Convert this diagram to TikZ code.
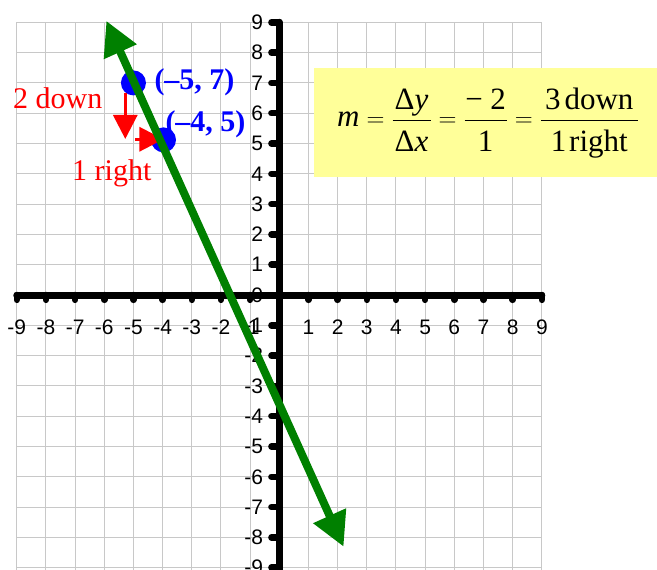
\documentclass[tikz,border=0pt]{standalone}
\usepackage{fontspec}
\setmainfont{Liberation Serif}
\newfontfamily\arialfont{Liberation Sans}
\usetikzlibrary{arrows.meta}
\definecolor{gridgray}{RGB}{200,200,200}
\definecolor{boxyellow}{RGB}{255,255,153}
\definecolor{linegreen}{RGB}{0,128,0}
\newcommand{\dstrut}{\rule{0pt}{30pt}}
\tikzset{
  gridline/.style={gridgray, line width=1pt},
  axisline/.style={black, line width=7pt, line cap=round},
  tickmark/.style={black, line width=6.5pt, line cap=round},
  numlabel/.style={font=\arialfont\fontsize{21}{21}\selectfont, inner sep=0pt},
  ptlabel/.style={font=\bfseries\fontsize{30}{30}\selectfont, text=blue, inner sep=0pt, anchor=base west},
  redlabel/.style={font=\fontsize{30}{30}\selectfont, text=red, inner sep=0pt, anchor=base west},
  redarrow/.style={red, line width=3pt, -{Triangle[length=24pt,width=24pt]}},
  greenarrow/.style={linegreen, line width=8pt, {Triangle[length=34pt,width=34pt]}-{Triangle[length=34pt,width=34pt]}},
  bluedot/.style={circle, fill=blue, minimum size=25pt, inner sep=0pt},
}
\begin{document}
\begin{tikzpicture}[x=29.17pt, y=30.3pt]
\useasboundingbox (-9.575,-9.043) rectangle (12.948,9.736);
% grid
\foreach \i in {-9,...,9} {
  \draw[gridline] (\i,9) -- (\i,-9.2);
  \draw[gridline] (-9,\i) -- (9,\i);
}
% yellow box
\fill[boxyellow] (1.19,3.90) rectangle (13.2,7.48);
\node[inner sep=0pt, anchor=base west, font=\fontsize{31}{33}\selectfont] (formula) at (1.978,5.554)
  {$\displaystyle \mbox{\itshape m} = \frac{\makebox[38pt]{Δ\itshape y}}{\makebox[38pt]{\dstrut Δ\itshape x}}
   = \frac{\makebox[42pt]{− 2}}{\makebox[42pt]{\dstrut 1}}
   = \frac{\makebox[97pt]{3\kern4pt down}}{\makebox[97pt]{\dstrut 1\kern3pt right}}$};
% labels
\foreach \i in {-9,...,-1,1,2,...,9} {
  \node[numlabel] (xl\i) at (\i,-1.06) {\ifnum\i<0 -\the\numexpr-\i\relax\else\i\fi};
}
\foreach \i in {-9,...,9} {
  \node[numlabel, anchor=east] (yl\i) at (-0.55,\i) {\ifnum\i<0 -\the\numexpr-\i\relax\else\i\fi};
}
% axes
\draw[axisline] (-9,0) -- (9,0);
\draw[axisline] (0,9) -- (0,-9.3);
\foreach \i in {-9,...,-1,1,2,...,9} {
  \draw[tickmark] (\i,0) -- (\i,-0.16);
  \draw[tickmark] (0,\i) -- (-0.27,\i);
}
% points
\node[bluedot] (p1) at (-5,7) {};
\node[bluedot] (p2) at (-3.97,5.12) {};
% red arrows
\coordinate (d1) at (-5.28,6.67);
\coordinate (d2) at (-5.28,5.15);
\coordinate (r1) at (-4.94,5.14);
\coordinate (r2) at (-3.97,5.14);
\draw[redarrow] (d1) -- (d2);
\draw[redarrow] (r1) -- (r2);
% green line
\coordinate (g1) at (-5.93,9.05);
\coordinate (g2) at (2.204,-8.307);
\draw[greenarrow] (g1) -- (g2);
% text labels
\node[ptlabel] (t1) at (-4.285,6.766) {(–5, 7)};
\node[ptlabel] (t2) at (-3.908,5.39) {(–4, 5)};
\node[redlabel] (t3) at (-9.13,6.17) {2 down};
\node[redlabel] (t4) at (-7.107,3.795) {1 right};
\end{tikzpicture}
\end{document}
